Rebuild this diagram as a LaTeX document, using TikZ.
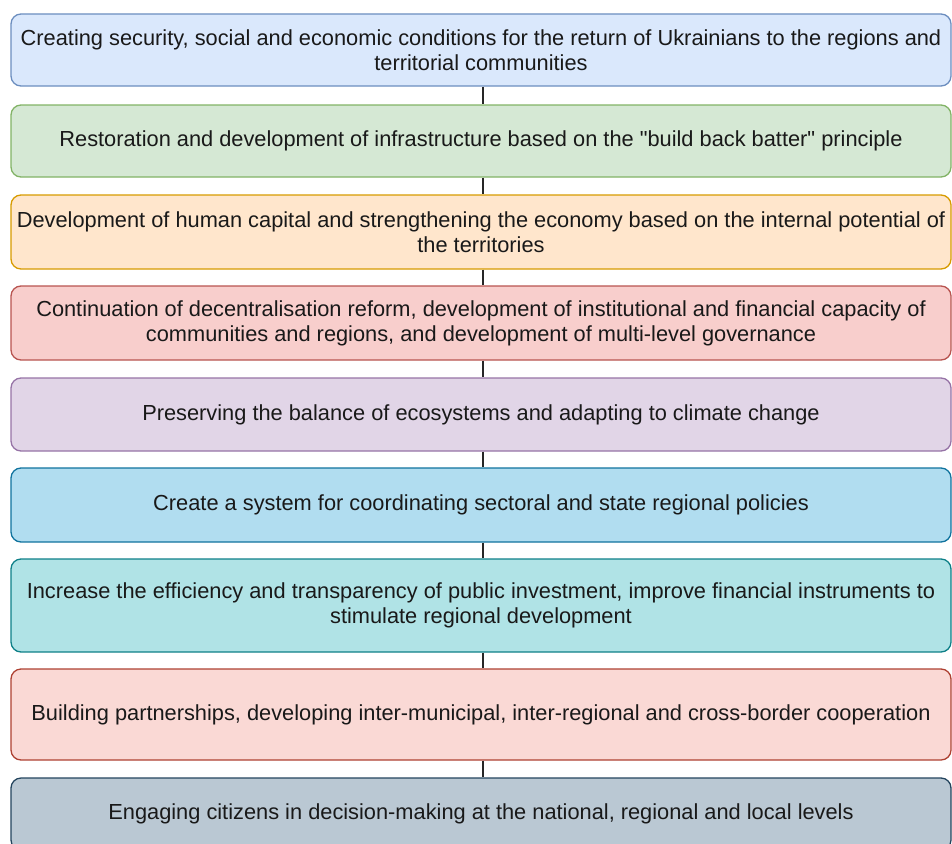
\documentclass[tikz,border=0pt]{standalone}
\usepackage{fontspec}
\setmainfont{Liberation Sans}
\begin{document}
\begin{tikzpicture}[x=1pt,y=1pt,
  stagebox/.style={rounded corners=10pt, line width=1.3pt, align=center,
    minimum width=940pt, inner sep=0pt, text=black!90,
    font=\fontsize{21.8}{25}\selectfont},
  link/.style={line width=1.1pt, draw=black!85}]
\useasboundingbox (0,0) rectangle (952,-843);
\definecolor{f1}{HTML}{DAE8FC}\definecolor{d1}{HTML}{6C8EBF}
\definecolor{f2}{HTML}{D5E8D4}\definecolor{d2}{HTML}{82B366}
\definecolor{f3}{HTML}{FFE6CC}\definecolor{d3}{HTML}{D79B00}
\definecolor{f4}{HTML}{F8CECC}\definecolor{d4}{HTML}{B85450}
\definecolor{f5}{HTML}{E1D5E7}\definecolor{d5}{HTML}{9673A6}
\definecolor{f6}{HTML}{B1DDF0}\definecolor{d6}{HTML}{10739E}
\definecolor{f7}{HTML}{B0E3E6}\definecolor{d7}{HTML}{0E8088}
\definecolor{f8}{HTML}{FAD9D5}\definecolor{d8}{HTML}{AE4132}
\definecolor{f9}{HTML}{BAC8D3}\definecolor{d9}{HTML}{23445D}

\node[stagebox, fill=f1, draw=d1, minimum height=72pt] (b1) at (481,-50)
  {Creating security, social and economic conditions for the return of Ukrainians to the regions and\\ territorial communities};
\node[stagebox, fill=f2, draw=d2, minimum height=72pt] (b2) at (481,-141)
  {Restoration and development of infrastructure based on the \textquotedbl build back batter\textquotedbl\ principle};
\node[stagebox, fill=f3, draw=d3, minimum height=74pt] (b3) at (481,-232)
  {Development of human capital and strengthening the economy based on the internal potential of\\ the territories};
\node[stagebox, fill=f4, draw=d4, minimum height=74pt] (b4) at (481,-323)
  {Continuation of decentralisation reform, development of institutional and financial capacity of\\ communities and regions, and development of multi-level governance};
\node[stagebox, fill=f5, draw=d5, minimum height=73pt] (b5) at (481,-414.5)
  {Preserving the balance of ecosystems and adapting to climate change};
\node[stagebox, fill=f6, draw=d6, minimum height=74pt] (b6) at (481,-505)
  {Create a system for coordinating sectoral and state regional policies};
\node[stagebox, fill=f7, draw=d7, minimum height=93pt] (b7) at (481,-605.5)
  {Increase the efficiency and transparency of public investment, improve financial instruments to\\ stimulate regional development};
\node[stagebox, fill=f8, draw=d8, minimum height=91pt] (b8) at (481,-714.5)
  {Building partnerships, developing inter-municipal, inter-regional and cross-border cooperation};
\node[stagebox, fill=f9, draw=d9, minimum height=72pt] (b9) at (481,-814)
  {Engaging citizens in decision-making at the national, regional and local levels};

\foreach \a/\b in {b1/b2,b2/b3,b3/b4,b4/b5,b5/b6,b6/b7,b7/b8,b8/b9}
  \draw[link] ([xshift=2pt]\a.south) -- ([xshift=2pt]\b.north);
\end{tikzpicture}
\end{document}
